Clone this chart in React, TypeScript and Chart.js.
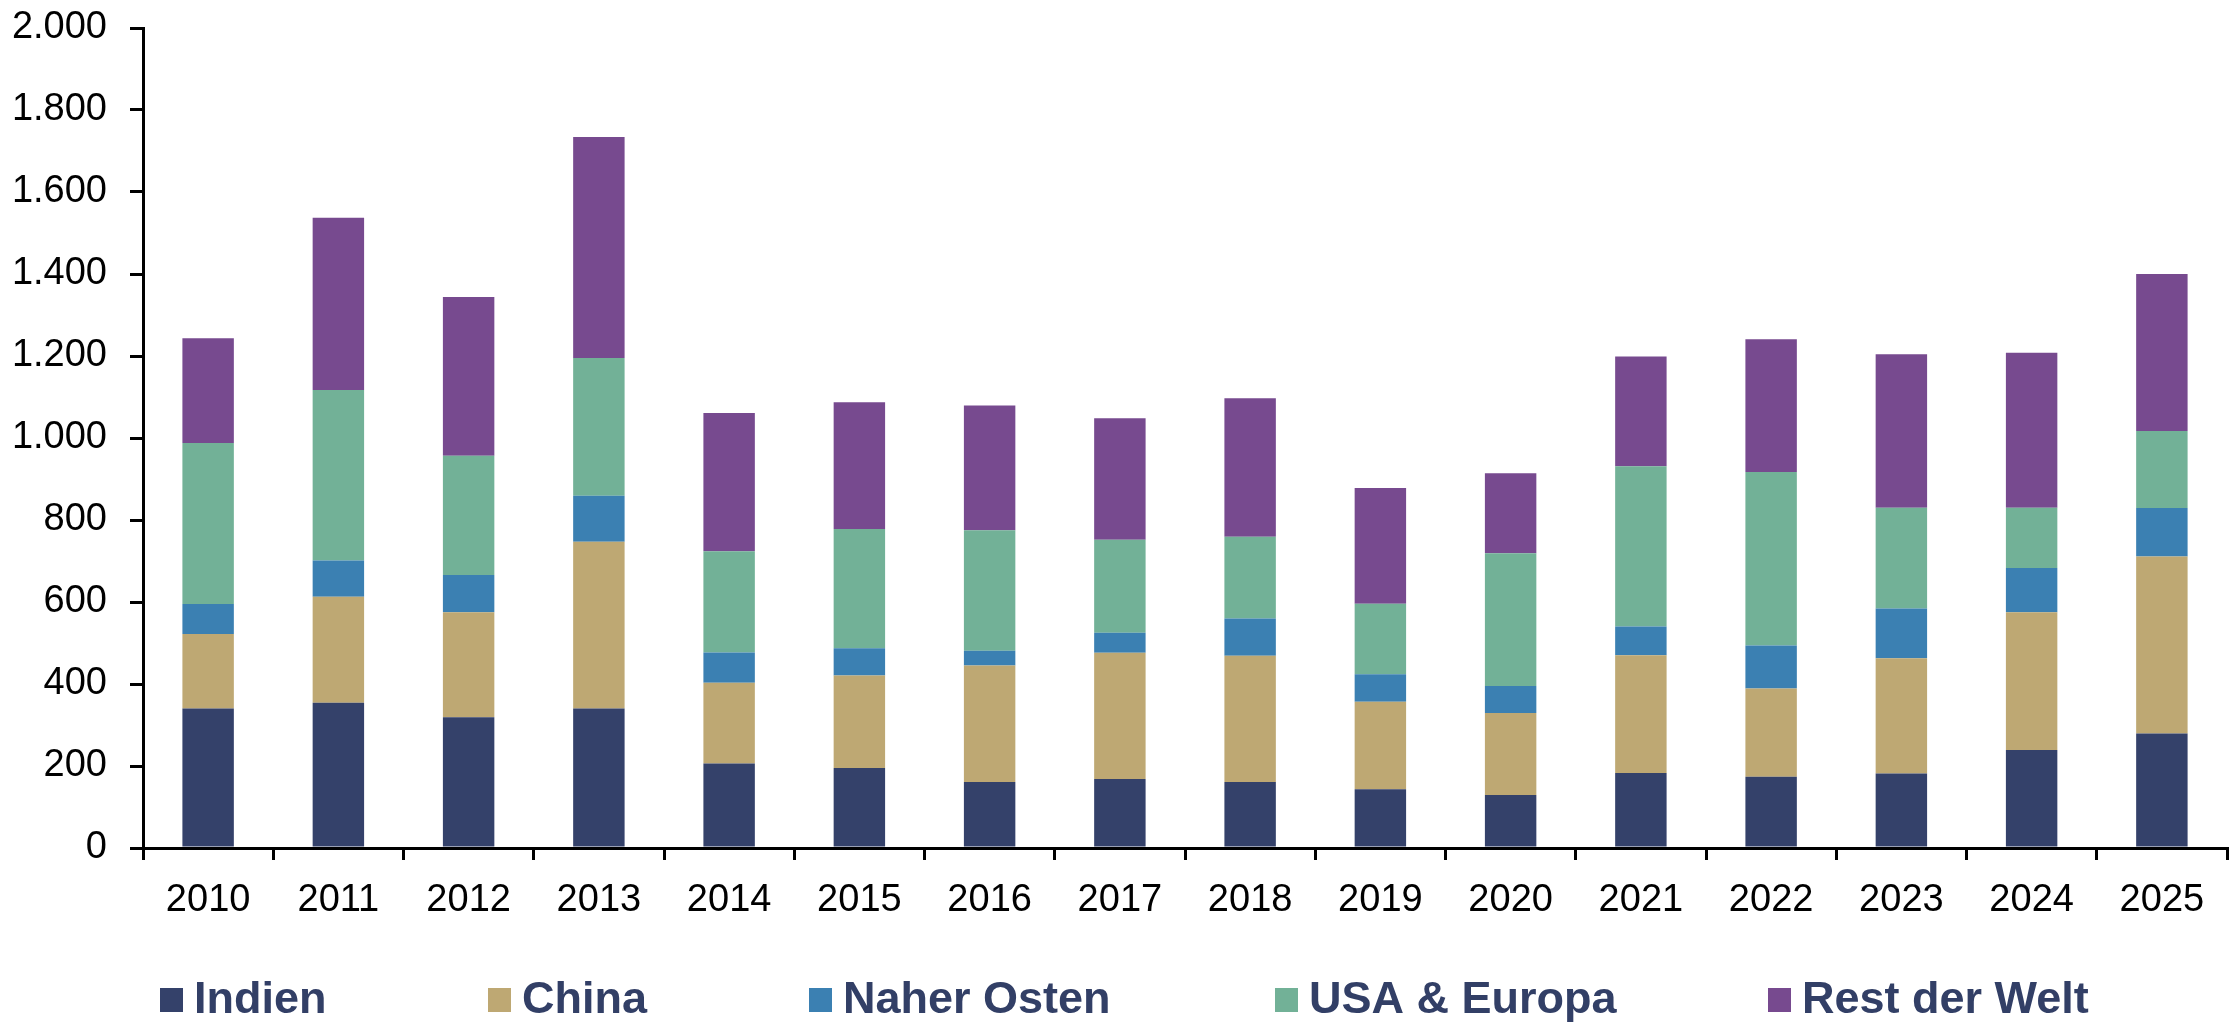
import React, { useEffect, useRef } from "react";
import { Chart, registerables } from "chart.js";

Chart.register(...registerables);

const CATEGORIES = ["2010", "2011", "2012", "2013", "2014", "2015", "2016", "2017", "2018", "2019", "2020", "2021", "2022", "2023", "2024", "2025"];
const SERIES_NAMES = ["Indien", "China", "Naher Osten", "USA & Europa", "Rest der Welt"];
const INDIEN = [340, 354, 319, 340, 206, 195, 161, 168, 161, 143, 129, 183, 174, 182, 239, 279];
const CHINA = [182, 259, 256, 407, 197, 226, 284, 308, 308, 214, 200, 287, 215, 281, 336, 432];
const NAHER_OSTEN = [73, 88, 91, 112, 74, 66, 36, 49, 91, 67, 66, 70, 105, 121, 108, 118];
const USA_EUROPA = [393, 416, 291, 336, 247, 291, 294, 227, 199, 172, 324, 391, 423, 246, 147, 188];
const REST_DER_WELT = [255, 420, 387, 539, 337, 309, 304, 296, 338, 282, 195, 268, 324, 374, 378, 383];
const COLORS = ["#34416A", "#BEA873", "#3B80B2", "#72B197", "#774A8F"];
const Y_MIN = 0;
const Y_MAX = 2000;
const Y_STEP = 200;

const LEGEND_X = [160, 488, 809, 1275, 1768];

const fmt = (v: number) => String(v).replace(/\B(?=(\d{3})+(?!\d))/g, ".");

const legendPlugin = {
  id: "customLegend",
  afterDraw(chart: any) {
    const ctx = chart.ctx;
    ctx.save();
    chart.data.datasets.forEach((ds: any, i: number) => {
      const x = LEGEND_X[i];
      const baseline = 1013;
      ctx.fillStyle = ds.backgroundColor;
      ctx.fillRect(x, 988, 23, 24);
      ctx.font = "bold 45px 'Liberation Sans', Arial, sans-serif";
      ctx.fillStyle = "#323F66";
      ctx.textBaseline = "alphabetic";
      ctx.textAlign = "left";
      ctx.fillText(ds.label, x + 34, baseline);
    });
    ctx.restore();
  },
};

export default function App() {
  const ref = useRef<HTMLCanvasElement | null>(null);
  useEffect(() => {
    if (!ref.current) return;
    Chart.defaults.font.family = "'Liberation Sans', Arial, sans-serif";
    const values = [INDIEN, CHINA, NAHER_OSTEN, USA_EUROPA, REST_DER_WELT];
    const chart = new Chart(ref.current, {
      type: "bar",
      data: {
        labels: CATEGORIES,
        datasets: SERIES_NAMES.map((name, i) => ({
          label: name,
          data: values[i],
          backgroundColor: COLORS[i],
          borderWidth: 0,
          barPercentage: 0.395,
          categoryPercentage: 1,
        })),
      },
      options: {
        responsive: false,
        animation: false,
        layout: { padding: { left: 0, top: 28, right: 11, bottom: 0 } },
        plugins: { legend: { display: false }, tooltip: { enabled: false } },
        scales: {
          x: {
            stacked: true,
            grid: { display: true, drawOnChartArea: false, drawTicks: true, tickLength: 12, color: "#000", lineWidth: 3, offset: true },
            border: { display: true, color: "#000", width: 3 },
            ticks: { color: "#000", font: { size: 38 }, padding: 18, maxRotation: 0, autoSkip: false },
            afterFit: (s: any) => { s.height = 182; s.paddingLeft = 0; s.paddingRight = 0; },
          },
          y: {
            stacked: true,
            min: Y_MIN,
            max: Y_MAX,
            grid: { display: true, drawOnChartArea: false, drawTicks: true, tickLength: 13, color: "#000", lineWidth: 3 },
            border: { display: true, color: "#000", width: 3 },
            ticks: { stepSize: Y_STEP, color: "#000", font: { size: 38 }, padding: 23, callback: (v: any) => fmt(Number(v)) },
            afterFit: (s: any) => { s.width = 143; s.paddingTop = 0; s.paddingBottom = 0; },
          },
        },
      },
      plugins: [legendPlugin],
    });
    return () => chart.destroy();
  }, []);
  return (
    <div style={{ position: "absolute", left: 0, top: 0, width: 2238, height: 1030, background: "#fff" }}>
      <canvas ref={ref} width={2238} height={1030} style={{ display: "block" }} />
    </div>
  );
}
